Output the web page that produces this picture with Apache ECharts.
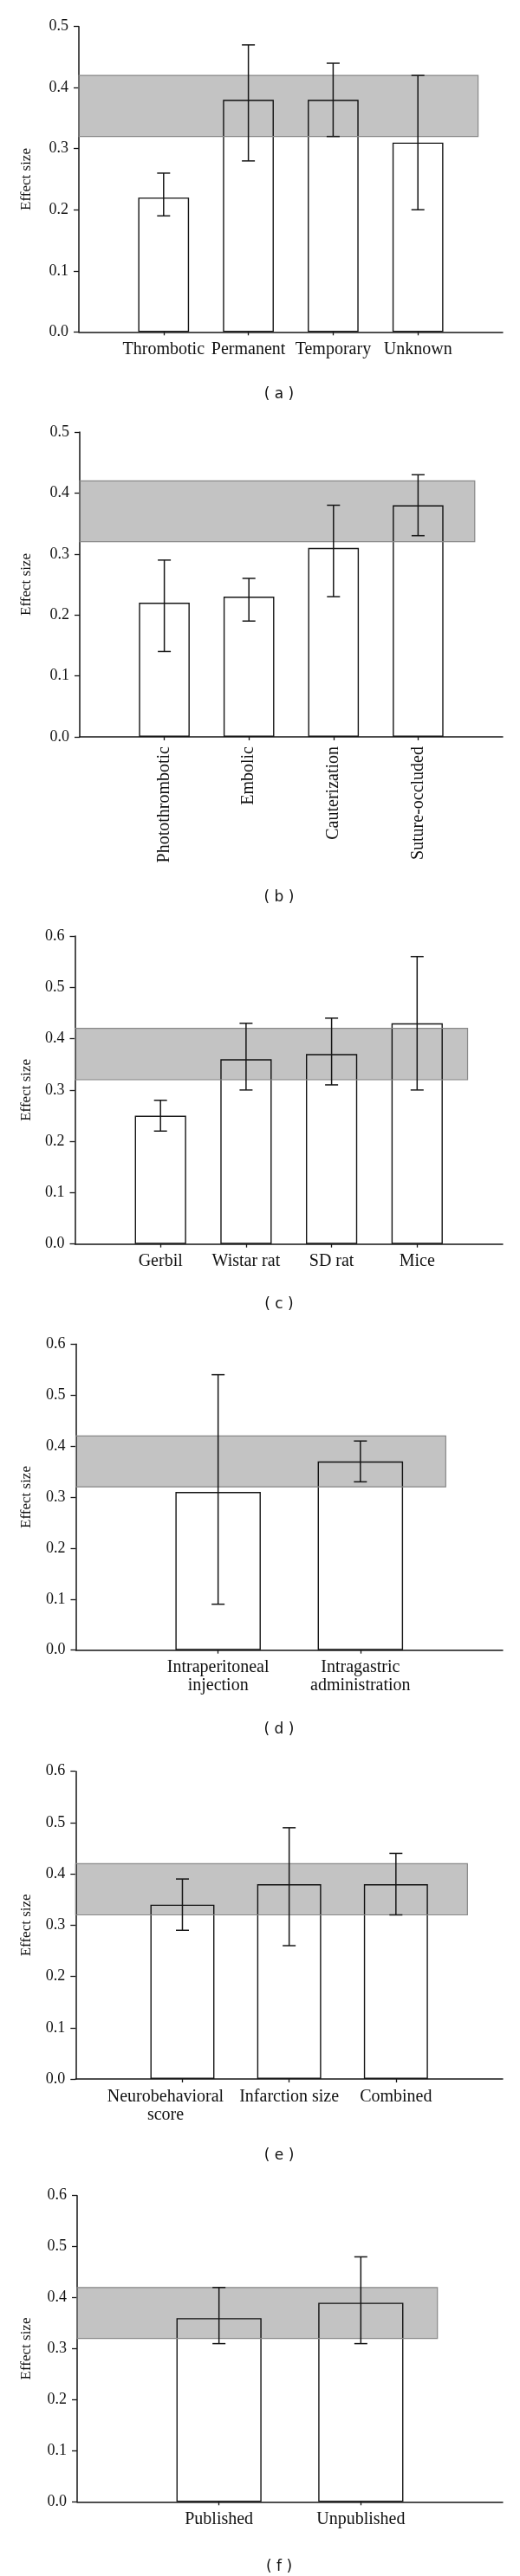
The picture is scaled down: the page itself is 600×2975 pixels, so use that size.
<!DOCTYPE html>
<html><head><meta charset="utf-8">
<script src="https://cdn.jsdelivr.net/npm/echarts@6/dist/echarts.min.js"></script>
<style>html,body{margin:0;padding:0;background:#fff}#c{width:600px;height:2975px}</style>
</head><body><div id="c"></div>
<script>
// ---------------- Data ----------------
const pooledLow = 0.32, pooledHigh = 0.42;

const aCats = ['Thrombotic', 'Permanent', 'Temporary', 'Unknown'];
const aMean = [0.22, 0.38, 0.38, 0.31];
const aLow  = [0.19, 0.28, 0.32, 0.20];
const aHigh = [0.26, 0.47, 0.44, 0.42];
const aYMax = 0.5;

const bCats = ['Photothrombotic', 'Embolic', 'Cauterization', 'Suture-occluded'];
const bMean = [0.22, 0.23, 0.31, 0.38];
const bLow  = [0.14, 0.19, 0.23, 0.33];
const bHigh = [0.29, 0.26, 0.38, 0.43];
const bYMax = 0.5;

const cCats = ['Gerbil', 'Wistar rat', 'SD rat', 'Mice'];
const cMean = [0.25, 0.36, 0.37, 0.43];
const cLow  = [0.22, 0.30, 0.31, 0.30];
const cHigh = [0.28, 0.43, 0.44, 0.56];
const cYMax = 0.6;

const dCats = ['Intraperitoneal\ninjection', 'Intragastric\nadministration'];
const dMean = [0.31, 0.37];
const dLow  = [0.09, 0.33];
const dHigh = [0.54, 0.41];
const dYMax = 0.6;

const eCats = ['Neurobehavioral\nscore', 'Infarction size', 'Combined'];
const eMean = [0.34, 0.38, 0.38];
const eLow  = [0.29, 0.26, 0.32];
const eHigh = [0.39, 0.49, 0.44];
const eYMax = 0.6;

const fCats = ['Published', 'Unpublished'];
const fMean = [0.36, 0.39];
const fLow  = [0.31, 0.31];
const fHigh = [0.42, 0.48];
const fYMax = 0.6;

const captions = ['( a )', '( b )', '( c )', '( d )', '( e )', '( f )'];
const yAxisTitle = 'Effect size';

// ---------------- Layout (positions / styles only) ----------------
const RIGHT = 580;
const layout = [
  {left: 91,   top: 30.7,   bottom: 383.3,  bandEnd: 4.71, rotate: 0,  capY: 455.5},
  {left: 92,   top: 499,    bottom: 851,    bandEnd: 4.67, rotate: 90, capY: 1036.7},
  {left: 86.5, top: 1081,   bottom: 1436.7, bandEnd: 4.59, rotate: 0,  capY: 1506.7},
  {left: 87.5, top: 1552.3, bottom: 1905.7, bandEnd: 2.60, rotate: 0,  capY: 1998},
  {left: 87.3, top: 2045.7, bottom: 2401,   bandEnd: 3.67, rotate: 0,  capY: 2490, firstLabelShiftPx: 19.5},
  {left: 89,   top: 2535.7, bottom: 2889.3, bandEnd: 2.54, rotate: 0,  capY: 2965}
];

const panels = [
  {cats: aCats, mean: aMean, low: aLow, high: aHigh, yMax: aYMax},
  {cats: bCats, mean: bMean, low: bLow, high: bHigh, yMax: bYMax},
  {cats: cCats, mean: cMean, low: cLow, high: cHigh, yMax: cYMax},
  {cats: dCats, mean: dMean, low: dLow, high: dHigh, yMax: dYMax},
  {cats: eCats, mean: eMean, low: eLow, high: eHigh, yMax: eYMax},
  {cats: fCats, mean: fMean, low: fLow, high: fHigh, yMax: fYMax}
];

const SERIF = '"Liberation Serif", "Times New Roman", serif';
const INK = '#161616';

const grid = [], xAxis = [], yAxis = [], series = [], graphic = [];

panels.forEach((P, i) => {
  const L = layout[i];
  const n = P.cats.length;
  const width = RIGHT - L.left;
  const slot = width / (n + 1);
  grid.push({left: L.left, top: L.top, width: width, height: L.bottom - L.top, containLabel: false});

  const positions = P.cats.map((c, k) => k + 1);
  const labelPositions = positions.slice();
  if (L.firstLabelShiftPx) labelPositions[0] = 1 - L.firstLabelShiftPx / slot;

  xAxis.push({
    gridIndex: i, type: 'value', min: 0, max: n + 1, interval: 1,
    splitLine: {show: false},
    axisLine: {show: true, lineStyle: {color: INK, width: 1.5}},
    axisTick: {show: true, length: 4, inside: false, customValues: positions,
               lineStyle: {color: INK, width: 1.3}},
    axisLabel: {
      show: true, customValues: labelPositions, rotate: L.rotate, hideOverlap: false,
      showMinLabel: true, showMaxLabel: true,
      margin: L.rotate ? 11 : 10,
      color: '#111', fontFamily: SERIF, fontSize: 20, lineHeight: 21,
      formatter: (v) => {
        const k = Math.round(v) - 1;
        if (k < 0 || k >= n) return '';
        return P.cats[k];
      }
    }
  });

  yAxis.push({
    gridIndex: i, type: 'value', min: 0, max: P.yMax, interval: 0.1,
    name: yAxisTitle, nameLocation: 'middle', nameGap: L.left - 39, nameRotate: 90,
    nameTextStyle: {fontFamily: SERIF, fontSize: 17, color: '#111'},
    splitLine: {show: false},
    axisLine: {show: true, lineStyle: {color: INK, width: 1.5}},
    axisTick: {show: true, length: 6, inside: false, lineStyle: {color: INK, width: 1.3}},
    axisLabel: {margin: 12, color: '#111', fontFamily: SERIF, fontSize: 18,
                formatter: (v) => v.toFixed(1)}
  });

  // bars
  series.push({
    type: 'bar', xAxisIndex: i, yAxisIndex: i, z: 2,
    barWidth: slot * 0.6,
    data: P.mean.map((v, k) => [k + 1, v]),
    itemStyle: {color: '#ffffff', borderColor: INK, borderWidth: 1.4},
    silent: true
  });

  // pooled-estimate band
  series.push({
    type: 'custom', xAxisIndex: i, yAxisIndex: i, z: 3, silent: true,
    data: [[pooledLow, pooledHigh]],
    encode: {x: -1, y: [0, 1]},
    renderItem: (params, api) => {
      const p0 = api.coord([0, api.value(1)]);
      const p1 = api.coord([L.bandEnd, api.value(0)]);
      return {type: 'rect',
        shape: {x: p0[0], y: p0[1], width: p1[0] - p0[0], height: p1[1] - p0[1]},
        style: {fill: 'rgba(0,0,0,0.235)', stroke: '#888888', lineWidth: 1.2}};
    }
  });

  // error bars
  series.push({
    type: 'custom', xAxisIndex: i, yAxisIndex: i, z: 4, silent: true,
    data: P.mean.map((v, k) => [k + 1, P.low[k], P.high[k]]),
    encode: {x: 0, y: [1, 2]},
    renderItem: (params, api) => {
      const x = api.value(0);
      const lo = api.coord([x, api.value(1)]);
      const hi = api.coord([x, api.value(2)]);
      const w = 7.5;
      const st = {stroke: INK, lineWidth: 1.5};
      return {type: 'group', children: [
        {type: 'line', shape: {x1: lo[0], y1: lo[1], x2: hi[0], y2: hi[1]}, style: st},
        {type: 'line', shape: {x1: hi[0] - w, y1: hi[1], x2: hi[0] + w, y2: hi[1]}, style: st},
        {type: 'line', shape: {x1: lo[0] - w, y1: lo[1], x2: lo[0] + w, y2: lo[1]}, style: st}
      ]};
    }
  });

  graphic.push({
    type: 'text', x: 322, y: L.capY,
    style: {text: captions[i], fontFamily: '"DejaVu Sans", Verdana, sans-serif', fontSize: 17,
            fill: '#111', textAlign: 'center', textVerticalAlign: 'middle'}
  });
});

const chart = echarts.init(document.getElementById('c'), null, {renderer: 'canvas'});
chart.setOption({
  animation: false,
  backgroundColor: '#ffffff',
  grid, xAxis, yAxis, series, graphic
});
</script>
</body></html>
